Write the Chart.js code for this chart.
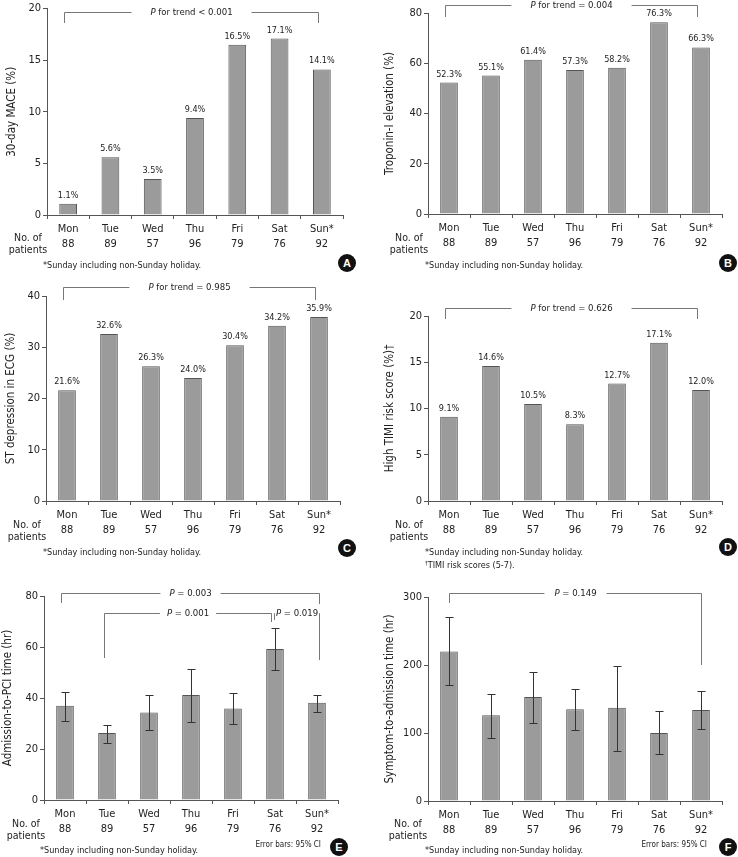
<!DOCTYPE html>
<html>
<head>
<meta charset="utf-8">
<script src="https://cdn.jsdelivr.net/npm/chart.js@4.4.1/dist/chart.umd.min.js"></script>
<style>
  body { margin: 0; background: #fff; width: 738px; height: 857px; position: relative; overflow: hidden;
         font-family: "DejaVu Sans Condensed", "Liberation Sans", sans-serif; color: #222; }
  .panel { position: absolute; }
  .panel canvas { position: absolute; left: 0; top: 0; }
  .t { position: absolute; white-space: nowrap; line-height: 1; transform: translateY(-50%); font-size: 9px; }
  .t.r { transform: translate(-100%, -50%); font-size: 8px; }
  .t sup { font-size: 6px; vertical-align: 3px; }
  .npat { position: absolute; text-align: center; font-size: 10.5px; line-height: 12px; transform: translateX(-50%); white-space: nowrap; }
  .badge { position: absolute; width: 18px; height: 18px; border-radius: 50%; background: #111; color: #fff;
           font: bold 11px "Liberation Sans", sans-serif; text-align: center; line-height: 18px; transform: translate(-50%, -50%); }
</style>
</head>
<body>
<script>
// --- DATOS ---
const days = ["Mon", "Tue", "Wed", "Thu", "Fri", "Sat", "Sun*"];
const patients = [88, 89, 57, 96, 79, 76, 92];

const maceA = [1.1, 5.6, 3.5, 9.4, 16.5, 17.1, 14.1];
const troponinB = [52.3, 55.1, 61.4, 57.3, 58.2, 76.3, 66.3];
const stDepressionC = [21.6, 32.6, 26.3, 24.0, 30.4, 34.2, 35.9];
const timiHighD = [9.1, 14.6, 10.5, 8.3, 12.7, 17.1, 12.0];

const pciTimeE = [37.0, 26.3, 34.3, 41.2, 35.9, 59.2, 38.1];
const pciLowE = [30.8, 22.4, 27.5, 30.6, 29.9, 51.0, 34.6];
const pciHighE = [42.2, 29.5, 41.2, 51.4, 42.0, 67.3, 41.2];

const symptomTimeF = [220, 126, 153, 135, 137, 100, 134];
const symptomLowF = [171, 92, 114, 105, 73, 69, 106];
const symptomHighF = [270, 158, 189, 164, 199, 132, 162];

const FONT = '"DejaVu Sans Condensed", "Liberation Sans", sans-serif';
const FOOT = "*Sunday including non-Sunday holiday.";

// --- PANELES ---
const panels = [
  { id: "A", x: 0, y: 0, w: 369, h: 280, axisX: 47, top: 7, bottom: 215, right: 343, titlePad: 4,
    title: "30-day MACE (%)", values: maceA, max: 20, step: 5, pct: true,
    brackets: [{ from: 0, to: 6, y: 12, dropL: 23, dropR: 23, p: " for trend < 0.001", gap: 19, dxL: -4, dxR: -4 }],
    nop: [28, 231], notes: [{ x: 43, y: 265, html: FOOT }], badge: [347, 263] },
  { id: "B", x: 369, y: 0, w: 369, h: 280, axisX: 59, top: 13, bottom: 214, right: 353, titlePad: 13,
    title: "Troponin-I elevation (%)", values: troponinB, max: 80, step: 20, pct: true,
    brackets: [{ from: 0, to: 6, y: 5, dropL: 17, dropR: 17, p: " for trend = 0.004", gap: 19, dxL: -4, dxR: -4 }],
    nop: [40, 231], notes: [{ x: 56, y: 265, html: FOOT }], badge: [359, 263] },
  { id: "C", x: 0, y: 280, w: 369, h: 290, axisX: 46, top: 16, bottom: 221, right: 340, titlePad: 3,
    title: "ST depression in ECG (%)", values: stDepressionC, max: 40, step: 10, pct: true,
    brackets: [{ from: 0, to: 6, y: 7, dropL: 20, dropR: 20, p: " for trend = 0.985", gap: 19, dxL: -4, dxR: -4 }],
    nop: [27, 238], notes: [{ x: 43, y: 272, html: FOOT }], badge: [347, 268] },
  { id: "D", x: 369, y: 280, w: 369, h: 290, axisX: 59, top: 36, bottom: 221, right: 353, titlePad: 13,
    title: "High TIMI risk score (%)\u2020", values: timiHighD, max: 20, step: 5, pct: true,
    brackets: [{ from: 0, to: 6, y: 28, dropL: 39, dropR: 39, p: " for trend = 0.626", gap: 19, dxL: -4, dxR: -4 }],
    nop: [40, 238], notes: [{ x: 56, y: 272, html: FOOT }, { x: 56, y: 285, html: "<sup>\u2020</sup>TIMI risk scores (5-7)." }],
    badge: [359, 267] },
  { id: "E", x: 0, y: 570, w: 369, h: 287, axisX: 44, top: 26, bottom: 230, right: 338, titlePad: 0,
    title: "Admission-to-PCI time (hr)", values: pciTimeE, low: pciLowE, high: pciHighE, max: 80, step: 20, pct: false,
    brackets: [
      { from: 0, to: 6, y: 23, dropL: 33, dropR: 34, p: " = 0.003", gap: 9, dxL: -4, dxR: 2 },
      { from: 1, to: 5, y: 43, dropL: 88, dropR: 52, p: " = 0.001", gap: 7, dxL: -3, dxR: -4 },
      { from: 5, to: 6, y: 43, dropL: 50, dropR: 90, p: " = 0.019", gap: 2, dxL: -1, dxR: 2 }
    ],
    nop: [26, 247], notes: [{ x: 40, y: 280, html: FOOT }, { x: 321, y: 275, html: "Error bars: 95% CI", right: true }], badge: [339, 277] },
  { id: "F", x: 369, y: 570, w: 369, h: 287, axisX: 59, top: 27, bottom: 231, right: 353, titlePad: 13,
    title: "Symptom-to-admission time (hr)", values: symptomTimeF, low: symptomLowF, high: symptomHighF, max: 300, step: 100, pct: false,
    brackets: [{ from: 0, to: 6, y: 23, dropL: 33, dropR: 95, p: " = 0.149", gap: 10, dxL: 0, dxR: 0 }],
    nop: [39, 247], notes: [{ x: 56, y: 280, html: FOOT }, { x: 338, y: 275, html: "Error bars: 95% CI", right: true }], badge: [359, 277] }
];

// etiquetas, corchetes y barras de error
function annotPlugin(p) {
  return {
    id: "annot" + p.id,
    afterDatasetsDraw(chart) {
      const ctx = chart.ctx;
      const meta = chart.getDatasetMeta(0);
      const xs = chart.scales.x, ys = chart.scales.y;
      ctx.save();

      if (p.low) {
        ctx.strokeStyle = "#333";
        ctx.lineWidth = 1;
        p.values.forEach((v, i) => {
          const x = Math.round(xs.getPixelForValue(i)) + 0.5;
          const yl = Math.round(ys.getPixelForValue(p.low[i])) + 0.5;
          const yh = Math.round(ys.getPixelForValue(p.high[i])) + 0.5;
          ctx.beginPath();
          ctx.moveTo(x, yl); ctx.lineTo(x, yh);
          ctx.moveTo(x - 4, yl); ctx.lineTo(x + 4, yl);
          ctx.moveTo(x - 4, yh); ctx.lineTo(x + 4, yh);
          ctx.stroke();
        });
      }

      if (p.pct) {
        ctx.fillStyle = "#222";
        ctx.font = "9px " + FONT;
        ctx.textAlign = "center";
        ctx.textBaseline = "alphabetic";
        meta.data.forEach((bar, i) => {
          ctx.fillText(p.values[i].toFixed(1) + "%", bar.x, bar.y - 6);
        });
      }

      p.brackets.forEach(b => {
        const x1 = Math.round(xs.getPixelForValue(b.from) + b.dxL) + 0.5;
        const x2 = Math.round(xs.getPixelForValue(b.to) + b.dxR) + 0.5;
        const y = b.y + 0.5;
        const cx = (x1 + x2) / 2;
        ctx.font = "italic 9.5px " + FONT;
        const wP = ctx.measureText("P").width;
        ctx.font = "9.5px " + FONT;
        const wR = ctx.measureText(b.p).width;
        const w = wP + wR;
        ctx.strokeStyle = "#777";
        ctx.lineWidth = 1;
        ctx.beginPath();
        ctx.moveTo(x1, b.dropL); ctx.lineTo(x1, y); ctx.lineTo(cx - w / 2 - b.gap, y);
        ctx.moveTo(cx + w / 2 + b.gap, y); ctx.lineTo(x2, y); ctx.lineTo(x2, b.dropR);
        ctx.stroke();
        ctx.fillStyle = "#222";
        ctx.textAlign = "left";
        ctx.textBaseline = "middle";
        ctx.font = "italic 9.5px " + FONT;
        ctx.fillText("P", cx - w / 2, y);
        ctx.font = "9.5px " + FONT;
        ctx.fillText(b.p, cx - w / 2 + wP, y);
      });
      ctx.restore();
    }
  };
}

panels.forEach(p => {
  const wrap = document.createElement("div");
  wrap.className = "panel";
  wrap.style.cssText = `left:${p.x}px;top:${p.y}px;width:${p.w}px;height:${p.h}px;`;
  const cv = document.createElement("canvas");
  cv.width = p.w; cv.height = p.h;
  wrap.appendChild(cv);

  const nop = document.createElement("div");
  nop.className = "npat";
  nop.style.left = p.nop[0] + "px";
  nop.style.top = p.nop[1] + "px";
  nop.innerHTML = "No. of<br>patients";
  wrap.appendChild(nop);

  p.notes.forEach(n => {
    const d = document.createElement("div");
    d.className = n.right ? "t r" : "t";
    d.style.left = n.x + "px";
    d.style.top = n.y + "px";
    d.innerHTML = n.html;
    wrap.appendChild(d);
  });

  const bd = document.createElement("div");
  bd.className = "badge";
  bd.style.left = p.badge[0] + "px";
  bd.style.top = p.badge[1] + "px";
  bd.textContent = p.id;
  wrap.appendChild(bd);
  document.body.appendChild(wrap);

  new Chart(cv, {
    type: "bar",
    data: {
      labels: days,
      datasets: [{
        data: p.values, backgroundColor: "#9b9b9b", borderColor: "#555", borderWidth: 1,
        categoryPercentage: 1, barPercentage: 0.42
      }]
    },
    options: {
      responsive: false, animation: false, devicePixelRatio: 1,
      layout: { padding: { top: p.top, right: p.w - p.right, bottom: 0, left: 0 } },
      plugins: { legend: { display: false }, tooltip: { enabled: false } },
      scales: {
        x: {
          grid: { drawOnChartArea: false, tickLength: 4, color: "#555", offset: true },
          border: { color: "#555" },
          ticks: {
            color: "#222", font: { family: FONT, size: 11, lineHeight: 1.36 }, padding: 3,
            maxRotation: 0, autoSkip: false,
            callback: (v, i) => [days[i], String(patients[i])]
          },
          afterFit: s => { s.height = p.h - p.bottom; }
        },
        y: {
          min: 0, max: p.max,
          ticks: { stepSize: p.step, color: "#222", font: { family: FONT, size: 11 }, padding: 2 },
          grid: { drawOnChartArea: false, tickLength: 4, color: "#555" },
          border: { color: "#555" },
          title: { display: true, text: p.title, color: "#222", font: { family: FONT, size: 11.5 }, padding: { top: p.titlePad + 1, bottom: 0 } },
          afterFit: s => { s.width = p.axisX; }
        }
      }
    },
    plugins: [annotPlugin(p)]
  });
});
</script>
</body>
</html>
